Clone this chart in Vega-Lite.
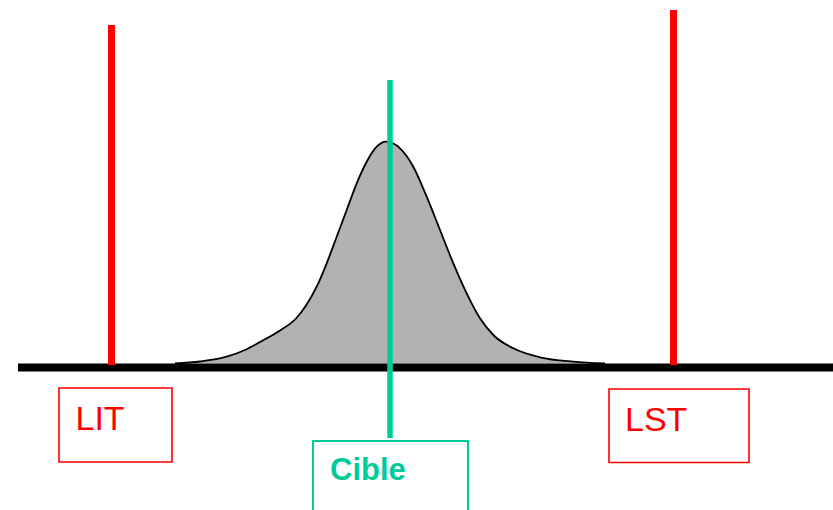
{
  "$schema": "https://vega.github.io/schema/vega-lite/v6.json",
  "width": 833,
  "height": 510,
  "autosize": "none",
  "padding": 0,
  "background": "white",
  "config": {"view": {"stroke": null}},
  "datasets": {
    "curve": [
      {"px": 175, "py": 363.5},
      {"px": 200, "py": 361.5},
      {"px": 226.7, "py": 356.7},
      {"px": 245, "py": 350},
      {"px": 260, "py": 342},
      {"px": 280, "py": 330.5},
      {"px": 296, "py": 318.5},
      {"px": 306, "py": 305.5},
      {"px": 316.7, "py": 286.7},
      {"px": 326.7, "py": 263.3},
      {"px": 336.7, "py": 236.7},
      {"px": 346.7, "py": 210},
      {"px": 356.7, "py": 183.3},
      {"px": 366.7, "py": 161.7},
      {"px": 376.7, "py": 146.7},
      {"px": 386, "py": 141.7},
      {"px": 400, "py": 148.3},
      {"px": 413.3, "py": 166.7},
      {"px": 426.7, "py": 196.7},
      {"px": 440, "py": 230},
      {"px": 453.3, "py": 263.3},
      {"px": 466.7, "py": 293.3},
      {"px": 480, "py": 318.3},
      {"px": 493.3, "py": 335},
      {"px": 513.3, "py": 348.3},
      {"px": 540, "py": 357.3},
      {"px": 573.3, "py": 361.7},
      {"px": 605, "py": 363.5}
    ],
    "limits": [
      {"name": "LIT", "px": 111.5, "top": 25, "bottom": 365},
      {"name": "LST", "px": 673.5, "top": 10, "bottom": 365},
      {"name": "Cible", "px": 390, "top": 80, "bottom": 438}
    ],
    "boxes": [
      {"name": "LIT", "left": 59, "right": 172, "top": 388, "bottom": 462, "tx": 75.5, "ty": 430},
      {"name": "LST", "left": 609, "right": 749, "top": 389, "bottom": 462.5, "tx": 625, "ty": 431},
      {"name": "Cible", "left": 313, "right": 468, "top": 441, "bottom": 530, "tx": 330, "ty": 480}
    ],
    "axisline": [{"start": 18, "end": 833, "level": 367.5}]
  },
  "layer": [
    {
      "data": {"name": "curve"},
      "mark": {"type": "area", "interpolate": "monotone", "fill": "#B2B2B2", "opacity": 1, "fillOpacity": 1, "line": {"color": "black", "strokeWidth": 1.8}},
      "encoding": {
        "x": {"field": "px", "type": "quantitative", "scale": {"domain": [0, 833], "nice": false, "zero": false}, "axis": null},
        "y": {"field": "py", "type": "quantitative", "scale": {"domain": [0, 510], "nice": false, "zero": false, "reverse": true}, "axis": null},
        "y2": {"datum": 363.5}
      }
    },
    {
      "data": {"name": "axisline"},
      "mark": {"type": "rule", "color": "black", "strokeWidth": 8, "strokeCap": "butt"},
      "encoding": {
        "x": {"field": "start", "type": "quantitative"},
        "x2": {"field": "end"},
        "y": {"field": "level", "type": "quantitative"}
      }
    },
    {
      "data": {"name": "limits"},
      "transform": [{"filter": "datum.name !== 'Cible'"}],
      "mark": {"type": "rule", "strokeCap": "butt", "color": "#FF0000", "strokeWidth": 7},
      "encoding": {
        "x": {"field": "px", "type": "quantitative"},
        "y": {"field": "top", "type": "quantitative"},
        "y2": {"field": "bottom"}
      }
    },
    {
      "data": {"name": "limits"},
      "transform": [{"filter": "datum.name === 'Cible'"}],
      "mark": {"type": "rule", "strokeCap": "butt", "color": "#00CC99", "strokeWidth": 5.5},
      "encoding": {
        "x": {"field": "px", "type": "quantitative"},
        "y": {"field": "top", "type": "quantitative"},
        "y2": {"field": "bottom"}
      }
    },
    {
      "data": {"name": "boxes"},
      "transform": [{"filter": "datum.name !== 'Cible'"}],
      "mark": {"type": "rect", "filled": false, "stroke": "#FF0000", "strokeWidth": 1.6},
      "encoding": {
        "x": {"field": "left", "type": "quantitative"},
        "x2": {"field": "right"},
        "y": {"field": "top", "type": "quantitative"},
        "y2": {"field": "bottom"}
      }
    },
    {
      "data": {"name": "boxes"},
      "transform": [{"filter": "datum.name === 'Cible'"}],
      "mark": {"type": "rect", "filled": false, "stroke": "#00CC99", "strokeWidth": 2, "clip": true},
      "encoding": {
        "x": {"field": "left", "type": "quantitative"},
        "x2": {"field": "right"},
        "y": {"field": "top", "type": "quantitative"},
        "y2": {"field": "bottom"}
      }
    },
    {
      "data": {"name": "boxes"},
      "transform": [{"filter": "datum.name !== 'Cible'"}],
      "mark": {"type": "text", "align": "left", "baseline": "alphabetic", "font": "Liberation Sans", "fontSize": 34, "color": "#FF0000"},
      "encoding": {
        "x": {"field": "tx", "type": "quantitative"},
        "y": {"field": "ty", "type": "quantitative"},
        "text": {"field": "name"}
      }
    },
    {
      "data": {"name": "boxes"},
      "transform": [{"filter": "datum.name === 'Cible'"}],
      "mark": {"type": "text", "align": "left", "baseline": "alphabetic", "font": "Liberation Sans", "fontSize": 31, "fontWeight": "bold", "color": "#00CC99"},
      "encoding": {
        "x": {"field": "tx", "type": "quantitative"},
        "y": {"field": "ty", "type": "quantitative"},
        "text": {"field": "name"}
      }
    }
  ]
}
